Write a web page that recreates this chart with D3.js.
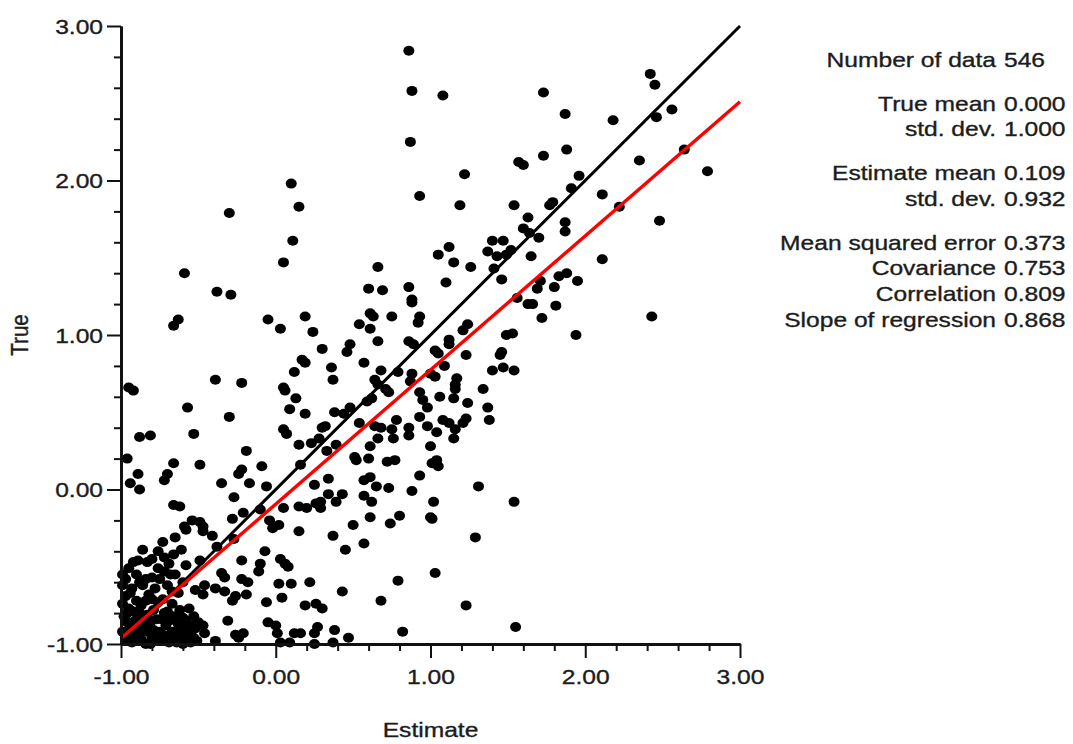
<!DOCTYPE html>
<html>
<head>
<meta charset="utf-8">
<script src="https://cdn.jsdelivr.net/npm/d3@7"></script>
<style>
  html, body { margin: 0; padding: 0; background: #fff; }
  svg { display: block; }
</style>
</head>
<body>
<svg id="chart" width="1073" height="744"></svg>
<script>
// Cross-validation scatter: [estimate, true] pairs
const samples = [
  [0.10,1.98],[0.15,1.83],[-0.30,1.79],
  [0.86,2.84],[0.88,2.58],[1.08,2.55],[0.87,2.25],[1.22,2.04],[0.93,1.90],[1.19,1.84],[1.57,2.12],[1.60,2.10],[1.54,1.84],[1.63,1.76],[1.60,1.69],
  [2.42,2.69],[2.45,2.62],[1.73,2.57],[1.87,2.43],[2.18,2.39],[2.46,2.41],[2.56,2.46],[1.88,2.20],[1.73,2.16],[2.64,2.20],[2.35,2.13],[2.79,2.06],[1.96,2.03],[1.91,1.95],[2.11,1.91],[1.79,1.86],[1.77,1.84],[2.22,1.83],[1.87,1.73],[2.48,1.74],[1.87,1.67],
  [0.11,1.61],[0.05,1.47],[-0.59,1.40],[-0.38,1.28],[-0.29,1.26],[-0.63,1.10],[-0.66,1.06],[-0.05,1.10],[0.03,1.04],[0.19,1.12],[0.24,1.02],[0.30,0.91],[0.17,0.84],[0.19,0.82],[0.12,0.76],[-0.39,0.71],[-0.22,0.69],[-0.95,0.66],[-0.92,0.64],[0.05,0.66],[0.06,0.64],[0.13,0.59],[-0.57,0.53],[0.09,0.52],[-0.30,0.47],[0.19,0.49],[0.05,0.39],[0.07,0.36],[0.30,0.40],[-0.81,0.35],[-0.88,0.34],[-0.53,0.36],
  [1.40,1.61],[1.47,1.61],[1.12,1.57],[1.05,1.52],[1.37,1.54],[1.43,1.51],[1.49,1.52],[1.52,1.55],[1.15,1.47],[1.26,1.44],[0.66,1.44],[1.41,1.43],[1.46,1.36],[1.10,1.34],[0.60,1.30],[0.69,1.29],[0.86,1.31],[0.88,1.23],[0.88,1.21],[1.56,1.24],[1.63,1.20],[0.61,1.14],[0.63,1.12],[0.75,1.12],[0.93,1.12],[0.92,1.08],[0.54,1.07],[0.61,1.04],[1.24,1.07],[1.21,1.03],[1.53,1.01],[1.49,1.00],[0.66,0.96],[0.86,0.96],[0.89,0.94],[1.12,0.97],[1.12,0.94],[0.48,0.94],[0.46,0.89],[1.03,0.90],[1.05,0.88],[1.46,0.89],[1.45,0.87],[1.23,0.87],[0.57,0.82],[1.09,0.80],[0.36,0.79],[0.37,0.71],[0.68,0.77],[0.79,0.76],[0.88,0.75],[1.00,0.75],[1.03,0.73],[1.40,0.77],[1.47,0.79],[1.54,0.77],[1.17,0.72],[1.16,0.68],[0.64,0.71],[0.87,0.70],[0.71,0.65],[0.73,0.63],[0.93,0.63],[1.16,0.65],[1.34,0.65],[0.66,0.68],[0.62,0.59],[0.59,0.57],[1.06,0.60],[1.15,0.59],[0.95,0.58],[0.98,0.53],[1.24,0.56],[0.48,0.53],[0.38,0.50],[0.44,0.49],[1.37,0.53],[0.78,0.45],[0.93,0.47],[1.08,0.45],[1.12,0.43],[1.23,0.46],[1.21,0.43],[1.38,0.45],[0.32,0.41],[0.54,0.43],[0.64,0.41],[0.68,0.40],[0.86,0.40],[0.98,0.41],[1.04,0.37],[1.16,0.39],[0.75,0.39],
  [1.70,1.63],[1.64,1.66],[1.65,1.51],[2.11,1.49],[1.83,1.38],[1.88,1.40],[1.95,1.35],[1.71,1.35],[1.69,1.30],[1.80,1.31],[1.66,1.20],[1.81,1.19],[1.72,1.11],[1.94,1.00],[2.43,1.12],
  [-0.96,0.20],[-0.19,0.25],[0.15,0.29],[0.23,0.30],[0.28,0.33],[-0.66,0.17],[-0.49,0.16],[-0.09,0.15],[0.16,0.16],[-0.89,0.10],[-0.70,0.10],[-0.72,0.06],[-0.22,0.13],[-0.24,0.10],[-0.94,0.04],[-0.88,0.00],[-0.35,0.04],[-0.17,0.04],[-0.06,0.02],[0.25,0.03],[-0.27,-0.05],[-0.66,-0.10],[-0.62,-0.11],[-0.21,-0.15],[-0.10,-0.13],[0.05,-0.12],[0.15,-0.11],[0.20,-0.12],[0.26,-0.09],[-0.54,-0.20],[-0.49,-0.21],[-0.47,-0.24],[-0.59,-0.24],[-0.58,-0.26],[-0.47,-0.27],[-0.28,-0.19],[-0.04,-0.20],[-0.02,-0.25],[0.02,-0.23],[-0.41,-0.30],[-0.65,-0.31],[0.15,-0.27],[-0.73,-0.34],[-0.76,-0.40],[-0.72,-0.44],[-0.27,-0.32],[-0.61,-0.39],[-0.38,-0.37],[-0.07,-0.40],[-0.89,-0.46],[-0.83,-0.47],[-0.49,-0.46],[-0.22,-0.46],[0.03,-0.45],[0.06,-0.48],[0.08,-0.50],[-0.10,-0.48],[-0.11,-0.53],[-0.95,-0.51],[-0.99,-0.55],[-0.76,-0.51],[-0.72,-0.53],[-0.68,-0.55],[-0.65,-0.55],[-0.84,-0.58],[-0.35,-0.54],[-0.33,-0.57],[-0.22,-0.58],[-0.18,-0.60],[0.02,-0.61],[0.10,-0.61],[0.22,-0.60],[-0.46,-0.62],[-0.52,-0.65],[-0.47,-0.68],[-0.39,-0.64],[-0.33,-0.66],[-0.26,-0.69],[-0.19,-0.68],[-0.28,-0.72],[0.04,-0.70],[-0.06,-0.73],[0.19,-0.75],[0.26,-0.74],[0.30,-0.77],[-0.31,-0.85],[-0.05,-0.86],[0.00,-0.88],[0.01,-0.93],[0.12,-0.93],[0.16,-0.93],[0.25,-0.93],[0.27,-0.89],[-0.50,-0.86],[-0.47,-0.88],[-0.52,-0.90],[-0.46,-0.93],[-0.26,-0.94],[-0.21,-0.93],[-0.24,-0.96],[-0.51,-0.98],[-0.39,-0.98],[0.03,-0.99],[0.09,-0.99],[0.25,-1.00],
  [-0.97,-0.69],[-0.90,-0.72],[-0.82,-0.68],[-0.73,-0.71],[-0.63,-0.67],
  [-0.95,-0.77],[-0.87,-0.75],[-0.79,-0.78],[-0.67,-0.74],[-0.56,-0.77],
  [-0.98,-0.82],[-0.91,-0.85],[-0.83,-0.81],[-0.74,-0.84],[-0.66,-0.82],[-0.58,-0.85],
  [-0.94,-0.90],[-0.85,-0.88],[-0.79,-0.91],[-0.71,-0.88],[-0.61,-0.90],
  [-0.97,-0.95],[-0.88,-0.93],[-0.80,-0.96],[-0.73,-0.94],[-0.64,-0.96],[-0.56,-0.93],
  [-0.93,-0.99],[-0.84,-1.00],[-0.77,-0.98],[-0.69,-0.99],[-0.60,-1.00],
  [-0.99,-0.62],[-0.93,-0.64],[-0.86,-0.62],[-0.78,-0.64],[-0.70,-0.62],[-0.60,-0.60],
  [-0.99,-0.74],[-0.92,-0.79],[-0.84,-0.72],[-0.76,-0.73],[-0.70,-0.79],[-0.62,-0.78],[-0.53,-0.82],
  [-0.96,-0.86],[-0.88,-0.80],[-0.81,-0.86],[-0.77,-0.84],[-0.69,-0.85],[-0.63,-0.87],[-0.55,-0.88],
  [-0.99,-0.92],[-0.91,-0.91],[-0.83,-0.92],[-0.75,-0.92],[-0.67,-0.92],[-0.58,-0.96],
  [-0.95,-0.98],[-0.87,-0.97],[-0.81,-1.00],[-0.72,-0.97],[-0.64,-0.99],[-0.55,-0.99],
  [-0.90,-0.55],[-0.80,-0.57],[-0.92,-0.47],[-0.80,-0.45],[-0.69,-0.48],[-0.58,-0.49],[-0.86,-0.39],[-0.66,-0.42],
  [-0.97,-0.58],[-0.88,-0.60],[-0.75,-0.58],[-0.94,-0.67],[-0.80,-0.71],[-0.67,-0.66],[-0.91,-0.95],[-0.85,-0.84],
  [-0.72,-0.80],[-0.60,-0.83],[-0.96,-0.80],[-0.89,-0.87],[-0.78,-0.94],[-0.69,-0.95],[-0.62,-0.94],[-0.53,-0.96],
  [0.39,0.29],[0.33,0.25],[0.61,0.28],[0.66,0.33],[0.76,0.33],[0.86,0.35],[1.15,0.33],[1.00,0.28],[0.51,0.21],[0.52,0.19],[0.60,0.20],[0.72,0.18],[0.77,0.19],[1.01,0.17],[1.04,0.19],[1.05,0.15],[0.34,0.07],[0.57,0.06],[0.61,0.08],[0.93,0.09],[0.65,0.02],[0.73,0.01],[1.31,0.02],[0.34,-0.03],[0.43,-0.03],[0.39,-0.08],[0.29,-0.08],[0.29,-0.12],[0.57,-0.04],[0.62,-0.08],[0.88,-0.01],[1.02,-0.08],[1.54,-0.08],[0.61,-0.18],[0.80,-0.17],[0.74,-0.22],[1.00,-0.18],[1.01,-0.19],[0.50,-0.23],[0.37,-0.30],[0.57,-0.35],[0.45,-0.39],[1.29,-0.31],[1.03,-0.54],[0.79,-0.59],[0.43,-0.66],[0.68,-0.72],[1.23,-0.75],[0.38,-0.91],[0.47,-0.96],[0.37,-0.99],[0.82,-0.92],[1.55,-0.89]
];

// Axis ticks
const majorTicks = [-1, 0, 1, 2, 3];
const minorTicks = [-0.8,-0.6,-0.4,-0.2,0.2,0.4,0.6,0.8,1.2,1.4,1.6,1.8,2.2,2.4,2.6,2.8];
const xTickLabels = ["-1.00", "0.00", "1.00", "2.00", "3.00"];
const yTickLabels = ["-1.00", "0.00", "1.00", "2.00", "3.00"];

// Summary statistics
const statLabels = ["Number of data", "True mean", "std. dev.", "Estimate mean", "std. dev.",
                    "Mean squared error", "Covariance", "Correlation", "Slope of regression"];
const statValues = ["546", "0.000", "1.000", "0.109", "0.932", "0.373", "0.753", "0.809", "0.868"];
const statGroups = [0, 1, 1, 2, 2, 3, 3, 3, 3];

const trueMean = 0.000;
const estimateMean = 0.109;
const regressionSlope = 0.868;

const FONT = "'Liberation Sans', Arial, Helvetica, sans-serif";
const FS = 20.5;
const SX = 1.2; // wide glyphs
const INK = "#1c1c1c";

function textStyle(sel) {
  return sel.attr("font-family", FONT).attr("font-size", FS)
    .attr("fill", INK).attr("stroke", INK).attr("stroke-width", 0.35);
}

const svg = d3.select("#chart");
svg.append("rect").attr("width", 1073).attr("height", 744).attr("fill", "#fff");

const x = d3.scaleLinear().domain([-1, 3]).range([121, 740]);
const y = d3.scaleLinear().domain([-1, 3]).range([644, 26]);

// Points
svg.append("g").selectAll("ellipse")
  .data(samples)
  .join("ellipse")
  .attr("cx", d => x(d[0]))
  .attr("cy", d => y(d[1]))
  .attr("rx", 5.5)
  .attr("ry", 5.0)
  .attr("fill", "#000");

// Reference line (estimate = true) and regression line
const line = d3.line().x(d => x(d[0])).y(d => y(d[1]));
const dom = x.domain();
svg.append("path")
  .datum(dom.map(v => [v, v]))
  .attr("d", line)
  .attr("stroke", "#000").attr("stroke-width", 3).attr("fill", "none");
svg.append("path")
  .datum(dom.map(v => [v, trueMean + regressionSlope * (v - estimateMean)]))
  .attr("d", line)
  .attr("stroke", "#ff0000").attr("stroke-width", 3.4).attr("fill", "none");

// Axes
function styleAxis(g) {
  g.select(".domain").attr("stroke", "#111").attr("stroke-width", 2.8);
  g.selectAll(".tick line").attr("stroke", "#111").attr("stroke-width", 2);
}

const xAxisY = y(-1);
const xMinor = svg.append("g").attr("transform", `translate(0,${xAxisY})`)
  .call(d3.axisBottom(x).tickValues(minorTicks).tickSize(7).tickSizeOuter(0).tickFormat(""));
styleAxis(xMinor);
const xMajor = svg.append("g").attr("transform", `translate(0,${xAxisY})`)
  .call(d3.axisBottom(x).tickValues(majorTicks).tickSize(14).tickSizeOuter(0)
        .tickFormat((d, i) => xTickLabels[i]));
styleAxis(xMajor);
xMajor.selectAll(".tick text")
  .attr("y", null).attr("dy", null)
  .attr("transform", `translate(0,40) scale(${SX},1)`)
  .attr("text-anchor", "middle")
  .call(textStyle);

const yMinor = svg.append("g").attr("transform", `translate(${x(-1)},0)`)
  .call(d3.axisLeft(y).tickValues(minorTicks).tickSize(7).tickSizeOuter(0).tickFormat(""));
styleAxis(yMinor);
const yMajor = svg.append("g").attr("transform", `translate(${x(-1)},0)`)
  .call(d3.axisLeft(y).tickValues(majorTicks).tickSize(14).tickSizeOuter(0)
        .tickFormat((d, i) => yTickLabels[i]));
styleAxis(yMajor);
yMajor.selectAll(".tick text")
  .attr("x", null).attr("dy", null)
  .attr("transform", `translate(-18,7) scale(${SX},1)`)
  .attr("text-anchor", "end")
  .call(textStyle);

// Axis titles
svg.append("text")
  .attr("transform", `translate(${(x(-1) + x(3)) / 2},737) scale(${SX},1)`)
  .attr("text-anchor", "middle")
  .call(textStyle)
  .text("Estimate");
svg.append("text")
  .attr("transform", `translate(28,${(y(-1) + y(3)) / 2}) scale(${SX},1) rotate(-90)`)
  .attr("text-anchor", "middle")
  .call(textStyle)
  .text("True");

// Statistics panel
const rowY = (i) => 67 + i * 25.7 + statGroups[i] * 18;
const stats = svg.append("g");
statLabels.forEach((lab, i) => {
  stats.append("text")
    .attr("transform", `translate(996,${rowY(i)}) scale(${SX},1)`)
    .attr("text-anchor", "end")
    .call(textStyle)
    .text(lab);
  stats.append("text")
    .attr("transform", `translate(1004,${rowY(i)}) scale(${SX},1)`)
    .attr("text-anchor", "start")
    .call(textStyle)
    .text(statValues[i]);
});
</script>
</body>
</html>
